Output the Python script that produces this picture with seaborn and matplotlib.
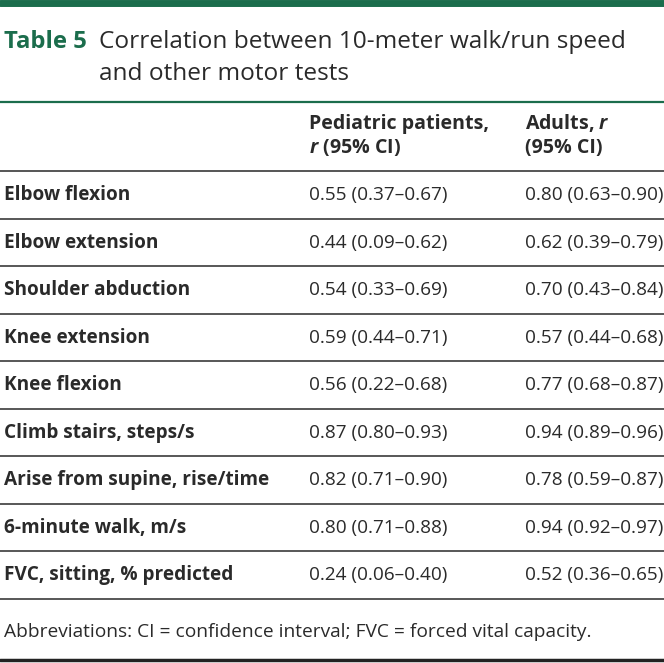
import matplotlib
matplotlib.use("Agg")
import matplotlib.pyplot as plt
import seaborn as sns

sns.set_theme(style="white")
plt.rcParams['font.family'] = ['Open Sans', 'DejaVu Sans']
plt.rcParams['mathtext.fontset'] = 'custom'
plt.rcParams['mathtext.it'] = 'Open Sans:italic:bold'
plt.rcParams['mathtext.rm'] = 'Open Sans:bold'

title_label = "Table 5"
title_lines = ["Correlation between 10-meter walk/run speed", "and other motor tests"]
col_headers = [["Pediatric patients,", "$\\it{r}$ (95% CI)"], ["Adults, $\\it{r}$", "(95% CI)"]]
tests = ["Elbow flexion", "Elbow extension", "Shoulder abduction", "Knee extension",
         "Knee flexion", "Climb stairs, steps/s", "Arise from supine, rise/time",
         "6-minute walk, m/s", "FVC, sitting, % predicted"]
pediatric = ["0.55 (0.37–0.67)", "0.44 (0.09–0.62)", "0.54 (0.33–0.69)", "0.59 (0.44–0.71)",
             "0.56 (0.22–0.68)", "0.87 (0.80–0.93)", "0.82 (0.71–0.90)", "0.80 (0.71–0.88)",
             "0.24 (0.06–0.40)"]
adults = ["0.80 (0.63–0.90)", "0.62 (0.39–0.79)", "0.70 (0.43–0.84)", "0.57 (0.44–0.68)",
          "0.77 (0.68–0.87)", "0.94 (0.89–0.96)", "0.78 (0.59–0.87)", "0.94 (0.92–0.97)",
          "0.52 (0.36–0.65)"]
footnote = "Abbreviations: CI = confidence interval; FVC = forced vital capacity."

GREEN = "#1b6d4c"
TEXT = "#2a2a2a"

W, H = 664, 663
fig = plt.figure(figsize=(W / 100, H / 100), dpi=100)
ax = fig.add_axes([0, 0, 1, 1])
ax.set_xlim(0, W)
ax.set_ylim(H, 0)
ax.axis("off")

fs = 13.7
# top bar
ax.axhline(3, color=GREEN, lw=5)
ax.text(4, 48.5, title_label, color=GREEN, fontsize=17.2, fontweight="bold", va="baseline", ha="left")
ax.text(99, 48.5, title_lines[0], color=TEXT, fontsize=17.6, va="baseline", ha="left")
ax.text(99, 79.5, title_lines[1], color=TEXT, fontsize=17.6, va="baseline", ha="left")
ax.axhline(101.5, color=GREEN, lw=1.6)

col_x = [4, 309, 525]
for ci, hdr in enumerate(col_headers):
    for li, line in enumerate(hdr):
        ax.text(col_x[ci + 1], 129 + li * 24, line, color=TEXT, fontsize=14.1,
                fontweight="bold", va="baseline", ha="left")
ax.axhline(171, color="#555555", lw=1.4)

row_top = 171
row_h = 47.5
for i, (t, p, a) in enumerate(zip(tests, pediatric, adults)):
    yb = row_top + row_h * (i + 0.5) + 5.5
    ax.text(col_x[0], yb, t, color=TEXT, fontsize=fs, fontweight="bold", va="baseline", ha="left")
    ax.text(col_x[1], yb, p, color=TEXT, fontsize=fs, va="baseline", ha="left")
    ax.text(col_x[2], yb, a, color=TEXT, fontsize=fs, va="baseline", ha="left")
    ax.axhline(row_top + row_h * (i + 1), color="#4a4a4a", lw=1.3)

ax.text(col_x[0], 637, footnote, color=TEXT, fontsize=13.8, va="baseline", ha="left")
ax.axhline(660, color="#222222", lw=2.5)

fig.savefig("out.png", dpi=100)
